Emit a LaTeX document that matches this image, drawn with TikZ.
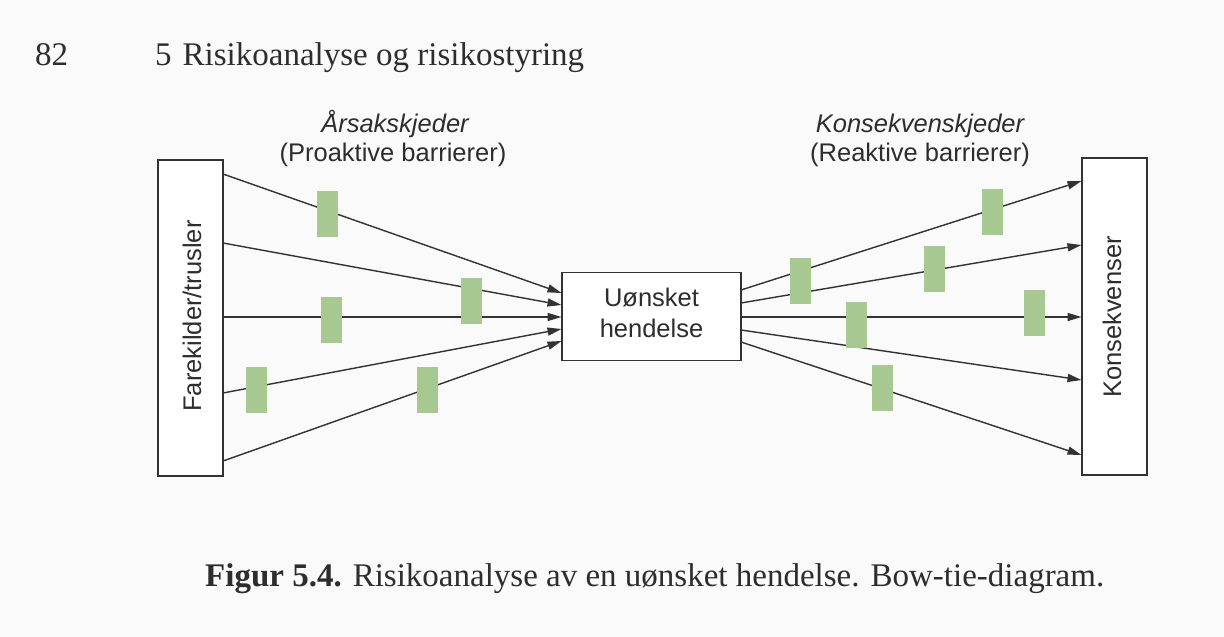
\documentclass[tikz,border=0pt]{standalone}
\usepackage{fontspec}
\setmainfont{Liberation Serif}
\newfontfamily\hv{Liberation Sans}
\usetikzlibrary{arrows.meta}
\definecolor{ink}{RGB}{50,50,50}
\definecolor{txt}{RGB}{45,45,45}
\definecolor{barrierfill}{RGB}{168,200,145}
\definecolor{paper}{RGB}{250,250,250}
\begin{document}
\begin{tikzpicture}[x=1pt,y=-1pt,
  box/.style={draw=ink, line width=1.4pt, fill=white, inner sep=0pt},
  barrier/.style={fill=barrierfill, draw=none, minimum width=21pt, minimum height=46pt, inner sep=0pt},
  chain/.style={draw=ink, line width=1.4pt},
  arr/.style={chain, -{Triangle[length=14pt,width=8pt]}},
  lab/.style={font=\hv\fontsize{25.5}{31}\selectfont, text=txt, inner sep=0pt},
  serif/.style={font=\fontsize{33}{40}\selectfont, text=txt, inner sep=0pt, anchor=base west},
  ]
\fill[paper] (0,0) rectangle (1224,637);
\useasboundingbox (0,0) rectangle (1224,637);

% header and caption
\node[serif] (page) at (35,65) {82};
\node[serif] (chap) at (155,65) {5\hspace{11pt}Risikoanalyse og risikostyring};
\node[serif] (cap) at (205,586) {\textbf{Figur 5.4.} Risikoanalyse av en uønsket hendelse. Bow-tie-diagram.};

% chain labels
\node[lab, font=\hv\itshape\fontsize{25.5}{31}\selectfont, anchor=base] (cause) at (395,132) {Årsakskjeder};
\node[lab, anchor=base] (pro) at (393,161) {(Proaktive barrierer)};
\node[lab, font=\hv\itshape\fontsize{25.5}{31}\selectfont, anchor=base] (cons) at (920,132) {Konsekvenskjeder};
\node[lab, anchor=base] (rea) at (920,161) {(Reaktive barrierer)};

% connector end points
\coordinate (s1) at (223,174);
\coordinate (s2) at (223,243);
\coordinate (s3) at (223,317);
\coordinate (s4) at (223,393);
\coordinate (s5) at (223,461);
\coordinate (e1) at (561.5,293);
\coordinate (e2) at (561.5,305);
\coordinate (e3) at (561.5,317);
\coordinate (e4) at (561.5,329);
\coordinate (e5) at (561.5,341);
\coordinate (o1) at (741,290);
\coordinate (o2) at (741,303);
\coordinate (o3) at (741,317);
\coordinate (o4) at (741,330);
\coordinate (o5) at (741,342);
\coordinate (k1) at (1081.5,181);
\coordinate (k2) at (1081.5,245);
\coordinate (k3) at (1081.5,317);
\coordinate (k4) at (1081.5,380);
\coordinate (k5) at (1081.5,455);

% chains
\foreach \i in {1,...,5} {
  \draw[arr] (s\i) -- (e\i);
  \draw[arr] (o\i) -- (k\i);
}

% barriers
\node[barrier] (b1) at (327.5,214) {};
\node[barrier] (b2) at (471,301) {};
\node[barrier] (b3) at (331.5,319.5) {};
\node[barrier] (b4) at (256.5,389.5) {};
\node[barrier] (b5) at (427,389.5) {};
\node[barrier] (r1) at (992,211.5) {};
\node[barrier] (r2) at (934,268.5) {};
\node[barrier] (r3) at (800.5,281) {};
\node[barrier] (r4) at (856.5,325) {};
\node[barrier] (r5) at (1034,312.5) {};
\node[barrier] (r6) at (882,388) {};

% boxes
\node[box, minimum width=65pt, minimum height=316pt] (L) at (190.5,318) {};
\node[lab, rotate=90] (Ltext) at (192,316) {Farekilder/trusler};
\node[box, minimum width=179pt, minimum height=88pt] (U) at (651.5,316.5) {};
\node[lab, align=center] (Utext) at (651.5,312.5) {Uønsket\\hendelse};
\node[box, minimum width=65pt, minimum height=317pt] (R) at (1114.5,316.5) {};
\node[lab, rotate=90] (Rtext) at (1112,317) {Konsekvenser};
\end{tikzpicture}
\end{document}
